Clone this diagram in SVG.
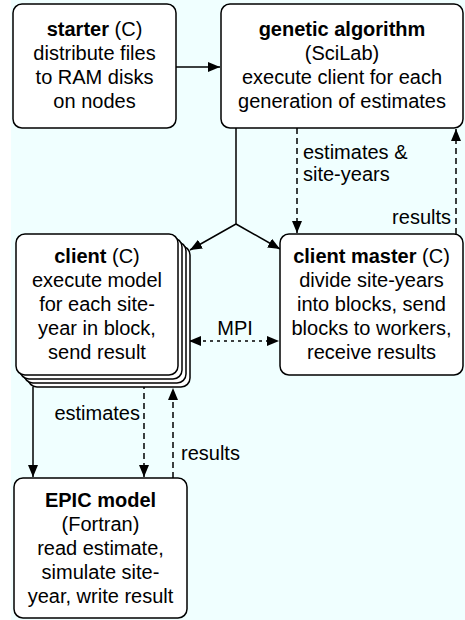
<svg xmlns="http://www.w3.org/2000/svg" width="465" height="620" viewBox="0 0 465 620">
<style>
.box{fill:#fff;stroke:#000;stroke-width:1.5}
.t{font-family:"Liberation Sans",Arial,sans-serif;font-size:20px;text-anchor:middle;fill:#000}
.l{font-family:"Liberation Sans",Arial,sans-serif;font-size:20px;fill:#000}
.b{font-weight:bold}
.c{fill:none;stroke:#000;stroke-width:1.5}
.d{stroke-dasharray:6,4}
.o{stroke-dasharray:3,4}
</style>
<defs>
<marker id="ah" viewBox="0 0 12 10" refX="12" refY="5" markerWidth="12" markerHeight="10" markerUnits="userSpaceOnUse" orient="auto-start-reverse">
<path d="M0,0 L12,5 L0,10 Z" fill="#000"/>
</marker>
</defs>
<rect x="11" y="0" width="454" height="620" fill="#f0ffff"/>
<g id="connectors">
<line class="c" x1="176" y1="67" x2="220" y2="67" marker-end="url(#ah)"/>
<polyline class="c" points="236,128 236,224 190,250" marker-end="url(#ah)"/>
<polyline class="c" points="236,224 280,249" marker-end="url(#ah)"/>
<line class="c d" x1="297" y1="128" x2="297" y2="233" marker-end="url(#ah)"/>
<line class="c d" x1="456" y1="234" x2="456" y2="129" marker-end="url(#ah)"/>
<line class="c o" x1="189" y1="341" x2="279" y2="341" marker-start="url(#ah)" marker-end="url(#ah)"/>
<line class="c" x1="33" y1="387" x2="33" y2="477" marker-end="url(#ah)"/>
<line class="c d" x1="144" y1="383" x2="144" y2="477" marker-end="url(#ah)"/>
<line class="c d" x1="173" y1="478" x2="173" y2="388" marker-end="url(#ah)"/>
<text class="l" x="303" y="159">estimates &amp;</text>
<text class="l" x="303" y="181">site-years</text>
<text class="l" x="451" y="224" text-anchor="end">results</text>
<text class="l" x="235" y="335" text-anchor="middle">MPI</text>
<text class="l" x="140" y="420" text-anchor="end">estimates</text>
<text class="l" x="181" y="460">results</text>
</g>
<g id="starter">
<rect class="box" x="13" y="4" width="163" height="124" rx="9"/>
<text class="t" x="94.5" y="36"><tspan class="b">starter</tspan> (C)</text>
<text class="t" x="94.5" y="60">distribute files</text>
<text class="t" x="94.5" y="84">to RAM disks</text>
<text class="t" x="94.5" y="108">on nodes</text>
</g>
<g id="genetic">
<rect class="box" x="221" y="4" width="242" height="124" rx="9"/>
<text class="t" x="342" y="36"><tspan class="b">genetic algorithm</tspan></text>
<text class="t" x="342" y="60">(SciLab)</text>
<text class="t" x="342" y="84">execute client for each</text>
<text class="t" x="342" y="108">generation of estimates</text>
</g>
<g id="client">
<rect class="box" x="28" y="246" width="162" height="141" rx="9"/>
<rect class="box" x="24" y="242" width="162" height="141" rx="9"/>
<rect class="box" x="20" y="238" width="162" height="141" rx="9"/>
<rect class="box" x="16" y="234" width="162" height="141" rx="9"/>
<text class="t" x="97" y="263"><tspan class="b">client</tspan> (C)</text>
<text class="t" x="97" y="287">execute model</text>
<text class="t" x="97" y="311">for each site-</text>
<text class="t" x="97" y="335">year in block,</text>
<text class="t" x="97" y="359">send result</text>
</g>
<g id="master">
<rect class="box" x="280" y="234" width="183" height="141" rx="9"/>
<text class="t" x="371.5" y="263"><tspan class="b">client master</tspan> (C)</text>
<text class="t" x="371.5" y="287">divide site-years</text>
<text class="t" x="371.5" y="311">into blocks, send</text>
<text class="t" x="371.5" y="335">blocks to workers,</text>
<text class="t" x="371.5" y="359">receive results</text>
</g>
<g id="epic">
<rect class="box" x="14" y="478" width="173" height="140" rx="9"/>
<text class="t" x="100.5" y="507"><tspan class="b">EPIC model</tspan></text>
<text class="t" x="100.5" y="531">(Fortran)</text>
<text class="t" x="100.5" y="555">read estimate,</text>
<text class="t" x="100.5" y="579">simulate site-</text>
<text class="t" x="100.5" y="603">year, write result</text>
</g>
</svg>
